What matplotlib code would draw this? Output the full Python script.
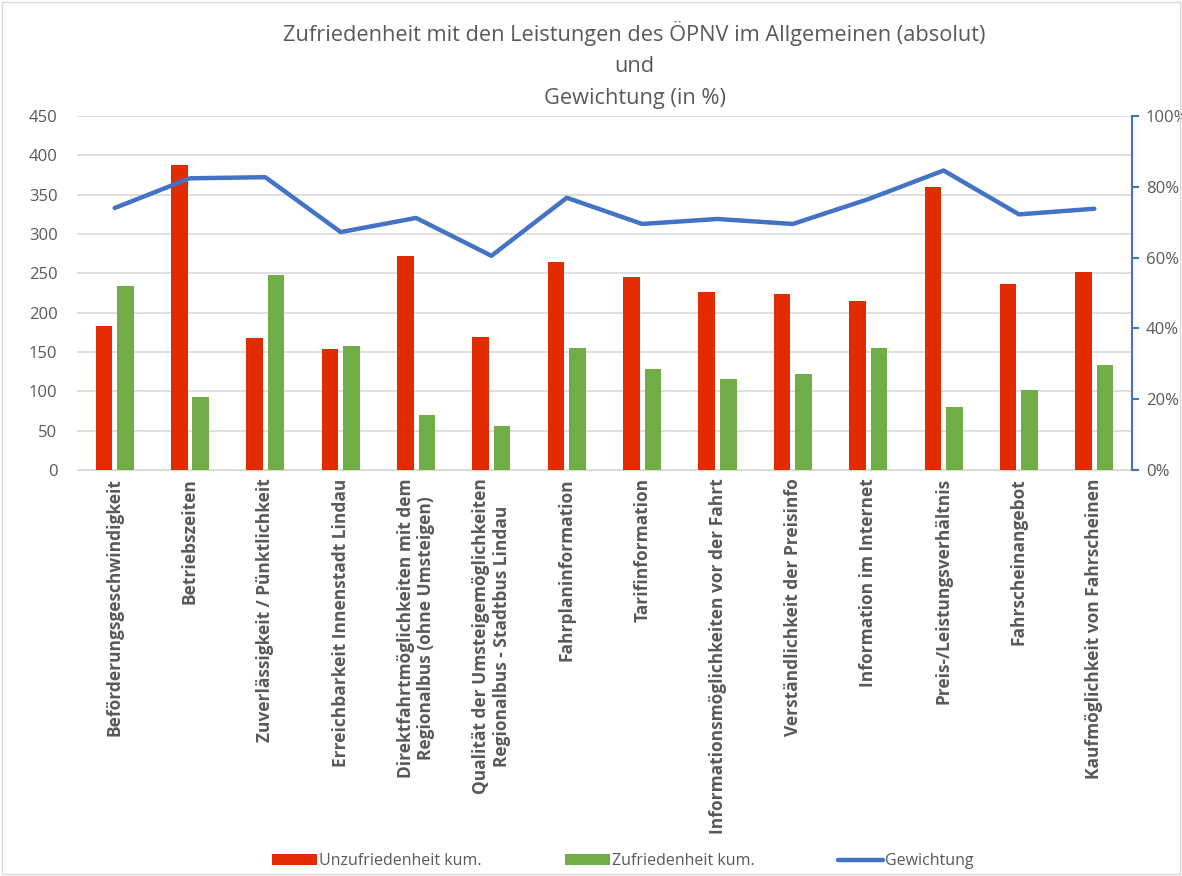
import numpy as np
import matplotlib
matplotlib.use("Agg")
import matplotlib.pyplot as plt
from matplotlib.patches import Rectangle
from matplotlib.ticker import FuncFormatter

plt.rcParams['font.family'] = ['Open Sans', 'DejaVu Sans']

# Daten
kategorien = [
    "Beförderungsgeschwindigkeit",
    "Betriebszeiten",
    "Zuverlässigkeit / Pünktlichkeit",
    "Erreichbarkeit Innenstadt Lindau",
    "Direktfahrtmöglichkeiten mit dem\nRegionalbus (ohne Umsteigen)",
    "Qualität der Umsteigemöglichkeiten\nRegionalbus - Stadtbus Lindau",
    "Fahrplaninformation",
    "Tarifinformation",
    "Informationsmöglichkeiten vor der Fahrt",
    "Verständlichkeit der Preisinfo",
    "Information im Internet",
    "Preis-/Leistungsverhältnis",
    "Fahrscheinangebot",
    "Kaufmöglichkeit von Fahrscheinen",
]
unzufrieden = [183, 388, 168, 154, 272, 169, 265, 245, 226, 224, 215, 360, 237, 252]
zufrieden = [234, 93, 248, 158, 70, 56, 155, 128, 116, 122, 155, 80, 102, 133]
gewichtung = [74.0, 82.4, 82.7, 67.2, 71.2, 60.5, 76.9, 69.5, 70.9, 69.5, 76.5, 84.6, 72.2, 73.8]

grau = "#595959"
rot = "#E32B00"
gruen = "#70AD47"
blau = "#4472C4"

fig = plt.figure(figsize=(11.82, 8.76), dpi=100)
fig.patches.append(Rectangle((0.002, 0.002), 0.996, 0.996, transform=fig.transFigure,
                             fill=False, edgecolor="#d9d9d9", linewidth=1))
ax = fig.add_axes([0.0651, 0.4635, 0.8926, 0.4041])
ax2 = ax.twinx()

x = np.arange(len(kategorien))
w = 0.22
ax.bar(x - 0.143, unzufrieden, width=w, color=rot, label="Unzufriedenheit kum.", zorder=3)
ax.bar(x + 0.143, zufrieden, width=w, color=gruen, label="Zufriedenheit kum.", zorder=3)
ax2.plot(x, gewichtung, color=blau, linewidth=3.2, solid_capstyle="round", label="Gewichtung")

ax.set_xlim(-0.5, len(kategorien) - 0.5)
ax.set_ylim(0, 450)
ax.set_yticks(np.arange(0, 451, 50))
ax.grid(axis="y", color="#d9d9d9", linewidth=1.2, zorder=0)
ax.set_axisbelow(True)
for s in ["top", "left", "right"]:
    ax.spines[s].set_visible(False)
ax.spines["bottom"].set_color("#d9d9d9")
ax.tick_params(axis="y", length=0, labelsize=12, colors=grau, pad=14)
ax.tick_params(axis="x", length=0, pad=6)
ax.set_xticks(x)
ax.set_xticklabels(kategorien, rotation=90, ha="center", va="top", multialignment="center",
                   fontsize=12.5, fontweight="bold", color=grau)

ax2.set_ylim(0, 100)
ax2.set_yticks(np.arange(0, 101, 20))
ax2.yaxis.set_major_formatter(FuncFormatter(lambda v, p: f"{v:.0f}%"))
for s in ["top", "left", "bottom"]:
    ax2.spines[s].set_visible(False)
ax2.spines["right"].set_color(blau)
ax2.spines["right"].set_linewidth(1.5)
ax2.tick_params(axis="y", length=5, width=1.5, color=blau, labelsize=12, labelcolor=grau, pad=5)

fig.text(0.537, 0.876, "Zufriedenheit mit den Leistungen des ÖPNV im Allgemeinen (absolut)\nund\nGewichtung (in %)",
         ha="center", va="bottom", fontsize=15.7, color=grau, linespacing=1.65)

h1, l1 = ax.get_legend_handles_labels()
h2, l2 = ax2.get_legend_handles_labels()
fig.legend(h1 + h2, l1 + l2, loc="center", bbox_to_anchor=(0.527, 0.017), ncol=3, frameon=False,
           fontsize=11.5, labelcolor=grau, columnspacing=5.2, handlelength=2.8, handletextpad=0.15)

fig.savefig("out.png", dpi=100)
